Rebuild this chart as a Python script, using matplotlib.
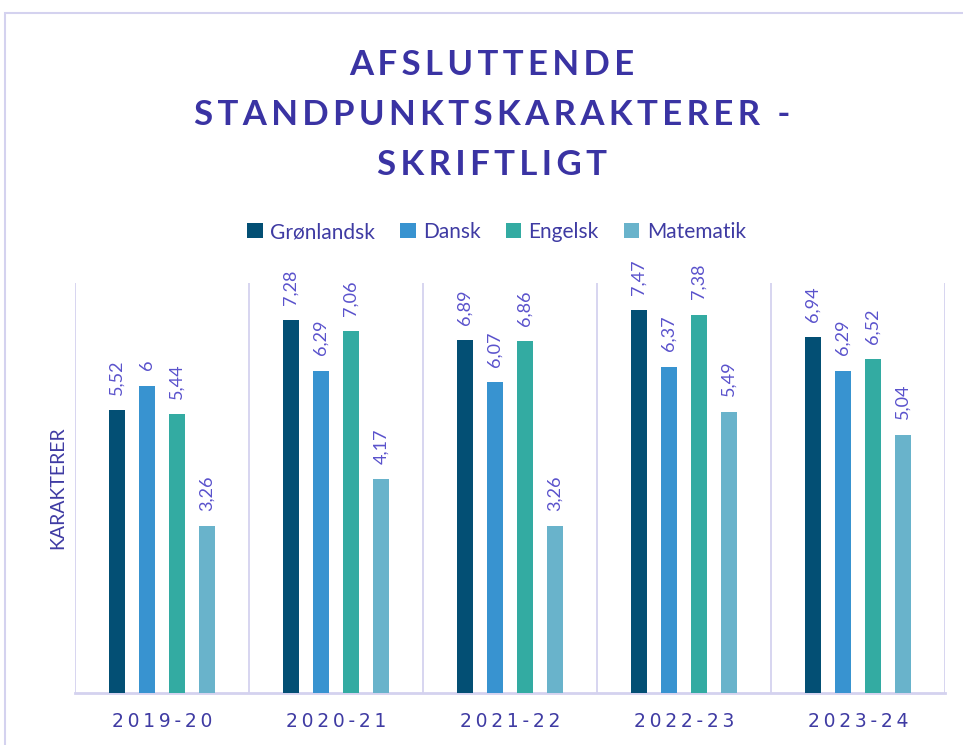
import matplotlib
matplotlib.use("Agg")
import matplotlib.pyplot as plt
import numpy as np
from matplotlib.patches import Rectangle

categories = ["2019-20", "2020-21", "2021-22", "2022-23", "2023-24"]
series_names = ["Grønlandsk", "Dansk", "Engelsk", "Matematik"]
groenlandsk = [5.52, 7.28, 6.89, 7.47, 6.94]
dansk = [6, 6.29, 6.07, 6.37, 6.29]
engelsk = [5.44, 7.06, 6.86, 7.38, 6.52]
matematik = [3.26, 4.17, 3.26, 5.49, 5.04]
series_values = [groenlandsk, dansk, engelsk, matematik]
colors = ["#034f74", "#3893d0", "#33aba2", "#69b3cb"]
title_lines = ["AFSLUTTENDE", "STANDPUNKTSKARAKTERER -", "SKRIFTLIGT"]

title_color = "#3a33a3"
text_color = "#3f3ba3"
label_color = "#5a52cc"
grid_color = "#d4d2ef"

plt.rcParams['font.family'] = ['Lato', 'DejaVu Sans']

fig = plt.figure(figsize=(9.63, 7.45), dpi=100)
fig.patches.append(Rectangle((5/963, -0.1), 1.2, 1 - 13/745 + 0.1, transform=fig.transFigure,
                             fill=False, edgecolor=grid_color, linewidth=1.5))
ax = fig.add_axes([75/963, 1 - 693/745, (945-75)/963, (693-283)/745])

n = len(categories)
x = np.arange(n)
bw = 0.092
step = 0.172
for i, (name, vals, c) in enumerate(zip(series_names, series_values, colors)):
    pos = x + (i - 1.5) * step
    bars = ax.bar(pos, vals, width=bw, color=c, label=name, zorder=3)
    for b, v in zip(bars, vals):
        s = ("%g" % v).replace(".", ",")
        ax.annotate(s, (b.get_x() + b.get_width()/2, v), xytext=(0, 11),
                    textcoords="offset points", rotation=90, ha="center", va="bottom",
                    fontsize=13, color=label_color)

ax.set_xlim(-0.5, n - 0.5)
ax.set_ylim(0, 8)
for b in np.arange(-0.5, n, 1.0):
    ax.axvline(b, color=grid_color, linewidth=1.3, zorder=1)
ax.set_yticks([])
ax.set_xticks(x)
ax.set_xticklabels(["\u2009".join(c) for c in categories], fontsize=13.5, color=text_color,
                   family=['DejaVu Sans'])
ax.tick_params(axis='x', length=0, pad=14)
for sp in ["top", "right", "left"]:
    ax.spines[sp].set_visible(False)
ax.spines["bottom"].set_color(grid_color)
ax.spines["bottom"].set_linewidth(2)
ax.set_ylabel("KARAKTERER", fontsize=14, color=text_color, labelpad=6)

title = "\n".join("\u2009".join(line) for line in title_lines)
fig.text(0.511, 1 - 115/745, title,
         ha="center", va="center", fontsize=25, fontweight="bold", color=title_color,
         linespacing=1.7, transform=fig.transFigure, family=['Lato', 'DejaVu Sans'])

leg = fig.legend(loc="center", bbox_to_anchor=(0.5156, 1 - 232/745), ncol=4, frameon=False,
                 fontsize=15, handlelength=0.75, handleheight=0.75, handletextpad=0.35,
                 columnspacing=1.2)
for t in leg.get_texts():
    t.set_color(text_color)

fig.savefig("out.png", dpi=100)
